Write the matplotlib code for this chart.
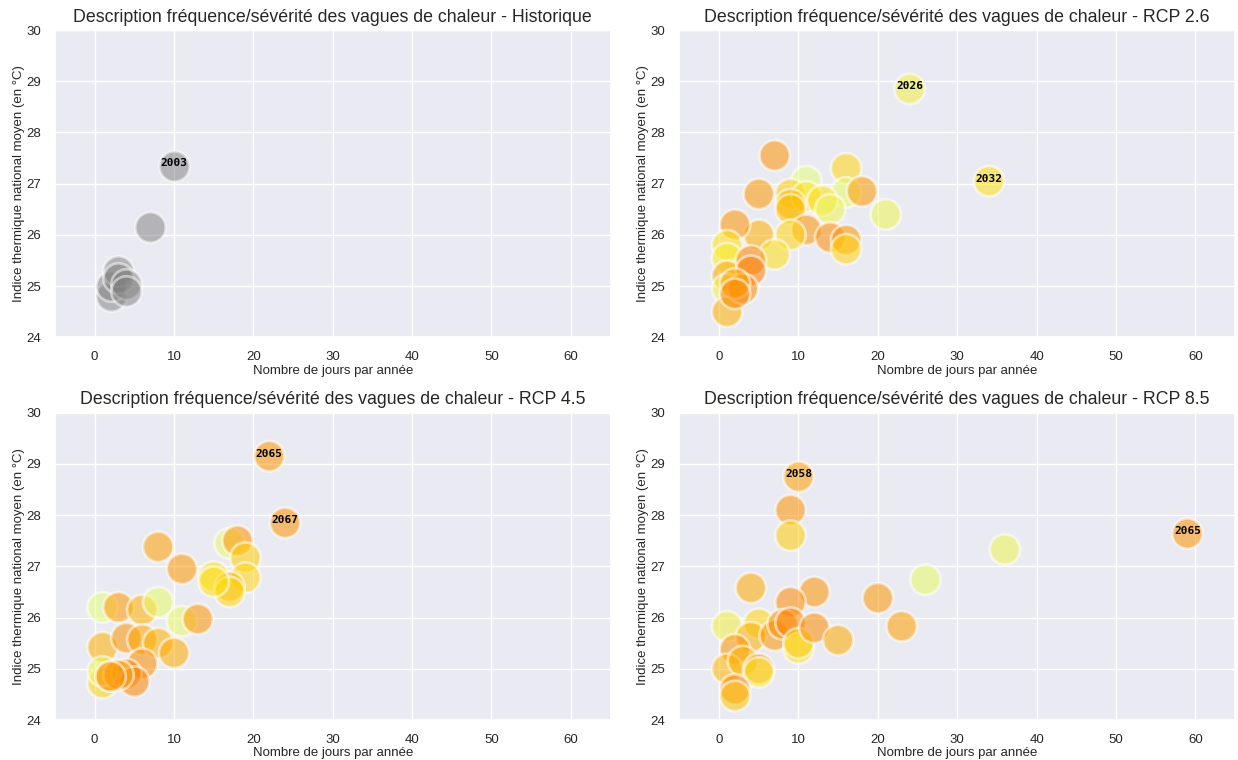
import numpy as np
import matplotlib.pyplot as plt
import seaborn as sns

sns.set_theme(style="darkgrid")
plt.rcParams['font.family'] = ['Liberation Sans', 'DejaVu Sans']

# Historique
hist_x = [2, 2, 3, 3, 4, 4, 7, 10]
hist_y = [24.8, 25.0, 25.3, 25.15, 25.05, 24.9, 26.15, 27.35]
hist_lab = {7: "2003"}

# RCP 2.6  (teinte : 0 = vert pâle, 1 = orange)
rcp26_x = [7, 11, 16, 16, 18, 21, 5, 9, 11, 9, 9, 13, 14, 11, 9, 14, 16, 16, 5, 7,
           2, 1, 1, 1, 1, 1, 4, 4, 3, 2, 2, 24, 34]
rcp26_y = [27.55, 27.05, 27.3, 26.83, 26.85, 26.4, 26.8, 26.8, 26.75, 26.6, 26.5, 26.67, 26.5,
           26.1, 26.0, 25.95, 25.9, 25.72, 26.0, 25.62, 26.2, 25.8, 25.55, 25.2, 24.95, 24.5,
           25.5, 25.3, 24.95, 25.05, 24.85, 28.85, 27.05]
rcp26_c = [0.85, 0.0, 0.35, 0.05, 0.8, 0.1, 0.8, 0.4, 0.3, 0.55, 0.5, 0.3, 0.1, 0.85, 0.35,
           0.9, 0.85, 0.35, 0.6, 0.3, 0.85, 0.3, 0.2, 0.7, 0.1, 0.6, 0.95, 1.0, 0.9, 0.7, 0.95,
           0.15, 0.3]
rcp26_lab = {31: "2026", 32: "2032"}

# RCP 4.5
rcp45_x = [22, 24, 8, 11, 17, 18, 19, 19, 15, 17, 17, 15, 1, 3, 6, 8, 11, 13, 1, 4, 6, 8,
           10, 6, 1, 2, 4, 5, 1, 3, 2]
rcp45_y = [29.15, 27.85, 27.38, 26.95, 27.45, 27.5, 27.17, 26.78, 26.8, 26.6, 26.5, 26.7,
           26.2, 26.2, 26.15, 26.3, 25.93, 25.97, 25.42, 25.6, 25.57, 25.5, 25.31, 25.1, 24.72,
           24.85, 24.9, 24.75, 24.95, 24.88, 24.85]
rcp45_c = [0.8, 0.85, 0.75, 0.8, 0.05, 0.85, 0.4, 0.35, 0.3, 0.6, 0.35, 0.3, 0.0, 0.8, 0.6,
           0.05, 0.05, 0.85, 0.6, 0.85, 0.7, 0.6, 0.65, 0.9, 0.35, 0.7, 0.95, 0.95, 0.1, 0.75,
           0.9]
rcp45_lab = {0: "2065", 1: "2067"}

# RCP 8.5
rcp85_x = [10, 9, 9, 4, 12, 9, 1, 5, 4, 7, 8, 9, 10, 10, 12, 15, 2, 1, 3, 5, 5, 2, 2,
           20, 23, 26, 36, 59]
rcp85_y = [28.75, 28.1, 27.6, 26.58, 26.5, 26.3, 25.83, 25.88, 25.62, 25.65, 25.87, 25.9,
           25.4, 25.5, 25.8, 25.56, 25.38, 25.0, 25.15, 25.0, 24.93, 24.6, 24.47, 26.38,
           25.83, 26.74, 27.33, 27.64]
rcp85_c = [0.75, 0.85, 0.4, 0.65, 0.85, 0.9, 0.15, 0.35, 0.6, 0.85, 0.9, 0.95, 0.3, 0.4,
           0.9, 0.65, 0.85, 0.55, 0.6, 0.9, 0.2, 0.95, 0.45, 0.8, 0.75, 0.05, 0.1, 0.85]
rcp85_lab = {0: "2058", 27: "2065"}

titre = "Description fréquence/sévérité des vagues de chaleur - "

fig, axes = plt.subplots(2, 2, figsize=(12.38, 7.6), dpi=100)
plt.subplots_adjust(left=0.0444, right=0.9976, top=0.9605, bottom=0.0526,
                    wspace=0.124, hspace=0.245)

panels = [
    (axes[0, 0], "Historique", hist_x, hist_y, None, hist_lab),
    (axes[0, 1], "RCP 2.6", rcp26_x, rcp26_y, rcp26_c, rcp26_lab),
    (axes[1, 0], "RCP 4.5", rcp45_x, rcp45_y, rcp45_c, rcp45_lab),
    (axes[1, 1], "RCP 8.5", rcp85_x, rcp85_y, rcp85_c, rcp85_lab),
]

for ax, nom, x, y, c, lab in panels:
    if c is None:
        ax.scatter(x, y, s=480, color="grey", alpha=0.5, edgecolors="white", linewidths=2)
    else:
        ax.scatter(x, y, s=480, c=c, cmap="Wistia", vmin=0, vmax=1, alpha=0.55,
                   edgecolors="white", linewidths=2)
    for i, t in lab.items():
        ax.text(x[i], y[i] + 0.05, t, ha="center", va="center", family="monospace",
                fontsize=8, fontweight="bold", color="black")
    ax.set_xlim(-5, 65)
    ax.set_ylim(24, 30)
    ax.set_title(titre + nom, fontsize=12.8)
    ax.set_xlabel("Nombre de jours par année", fontsize=9.5, labelpad=1)
    ax.set_ylabel("Indice thermique national moyen (en °C)", fontsize=9.5, labelpad=1)
    ax.tick_params(labelsize=9.5, pad=4)

plt.savefig("out.png")
